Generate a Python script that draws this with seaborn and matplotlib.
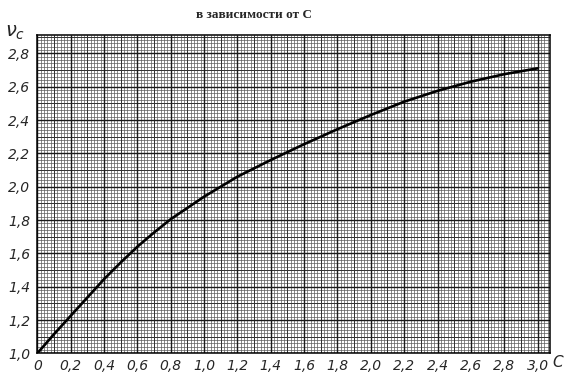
import numpy as np
import pandas as pd
import seaborn as sns
import matplotlib.pyplot as plt

# values
c_values = [0.0, 0.1, 0.2, 0.3, 0.4, 0.5, 0.6, 0.7, 0.8, 1.0, 1.2, 1.4,
            1.6, 1.8, 2.0, 2.2, 2.4, 2.6, 2.8, 3.0]
nu_values = [1.000, 1.115, 1.225, 1.335, 1.445, 1.545, 1.640, 1.725, 1.805, 1.940, 2.060, 2.160,
             2.255, 2.345, 2.430, 2.510, 2.575, 2.630, 2.675, 2.710]

x_ticks = [0.0, 0.2, 0.4, 0.6, 0.8, 1.0, 1.2, 1.4, 1.6, 1.8, 2.0, 2.2, 2.4, 2.6, 2.8, 3.0]
x_labels = ["0", "0,2", "0,4", "0,6", "0,8", "1,0", "1,2", "1,4", "1,6", "1,8",
            "2,0", "2,2", "2,4", "2,6", "2,8", "3,0"]
y_ticks = [1.0, 1.2, 1.4, 1.6, 1.8, 2.0, 2.2, 2.4, 2.6, 2.8]
y_labels = ["1,0", "1,2", "1,4", "1,6", "1,8", "2,0", "2,2", "2,4", "2,6", "2,8"]

title = "в зависимости от С"

df = pd.DataFrame({"C": c_values, "nu": nu_values})

sns.set_style("white")
plt.rcParams['font.family'] = ['DejaVu Sans']

fig = plt.figure(figsize=(5.7, 3.87), dpi=100, facecolor='white')
ax = fig.add_axes([0.0655, 0.087, 0.8995, 0.8225])

xmax, ymax = 3.075, 2.91
ax.set_xlim(0, xmax)
ax.set_ylim(1.0, ymax)

# graph paper: fine, medium and heavy rulings
fine_x = np.arange(0, xmax, 0.02)
fine_y = np.arange(1.0, ymax, 0.02)
mid_x = np.arange(0.1, xmax, 0.2)
mid_y = np.arange(1.1, ymax, 0.2)
ax.vlines(fine_x, 1.0, ymax, color='#5a5a5a', lw=0.5, zorder=0)
ax.hlines(fine_y, 0, xmax, color='#5a5a5a', lw=0.5, zorder=0)
ax.vlines(mid_x, 1.0, ymax, color='#333333', lw=0.7, zorder=0)
ax.hlines(mid_y, 0, xmax, color='#333333', lw=0.7, zorder=0)
ax.vlines(x_ticks, 1.0, ymax, color='#1a1a1a', lw=1.0, zorder=0)
ax.hlines(y_ticks, 0, xmax, color='#1a1a1a', lw=1.0, zorder=0)

sns.lineplot(data=df, x="C", y="nu", ax=ax, color='black', lw=1.9, zorder=3)

ax.set_xticks(x_ticks)
ax.set_xticklabels(x_labels, fontsize=10, style='italic')
ax.set_yticks(y_ticks)
ax.set_yticklabels(y_labels, fontsize=10, style='italic')
ax.tick_params(axis='both', length=0)
ax.tick_params(axis='x', pad=4)
ax.tick_params(axis='y', pad=5)
ax.set_xlabel("")
ax.set_ylabel("")
for s in ax.spines.values():
    s.set_color('black')
    s.set_linewidth(1.1)

fig.text(0.027, 0.915, r'$\nu_c$', fontsize=14, ha='center', va='center')
fig.text(0.978, 0.064, 'C', fontsize=11, style='italic', ha='center', va='center')
fig.text(0.446, 0.961, title, fontsize=9.5, fontweight='bold',
         family=['Liberation Serif', 'DejaVu Serif'], ha='center', va='center')

fig.savefig("out.png", dpi=100, facecolor='white')
